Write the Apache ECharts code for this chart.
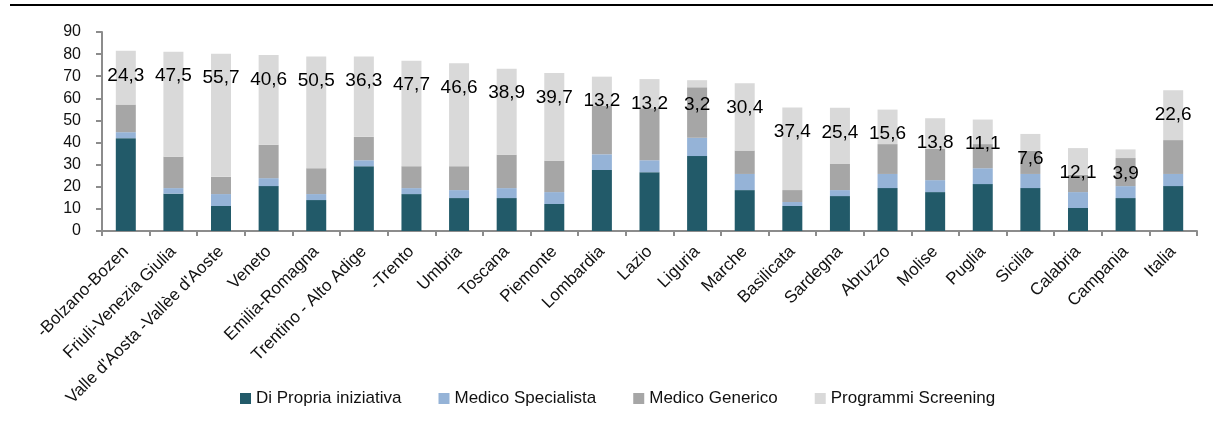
<!DOCTYPE html>
<html>
<head>
<meta charset="utf-8">
<script src="https://cdn.jsdelivr.net/npm/echarts@6/dist/echarts.min.js"></script>
<style>
  html, body { margin: 0; padding: 0; background: #fff; }
  #chart { width: 1213px; height: 421px; }
</style>
</head>
<body>
<div id="chart"></div>
<script>
// regioni
const categories = ['-Bolzano-Bozen', 'Friuli-Venezia Giulia', "Valle d'Aosta -Vallèe d'Aoste", 'Veneto',
  'Emilia-Romagna', 'Trentino - Alto Adige', '-Trento', 'Umbria', 'Toscana', 'Piemonte', 'Lombardia',
  'Lazio', 'Liguria', 'Marche', 'Basilicata', 'Sardegna', 'Abruzzo', 'Molise', 'Puglia', 'Sicilia',
  'Calabria', 'Campania', 'Italia']
const propria = [42.0, 16.9, 11.3, 20.3, 14.0, 29.3, 16.7, 14.9, 14.9, 12.2, 27.6, 26.6, 33.9, 18.5, 11.3, 15.8, 19.4, 17.6, 21.2, 19.4, 10.4, 14.9, 20.3]
const specialista = [2.7, 2.5, 5.4, 3.6, 2.7, 2.7, 2.7, 3.6, 4.5, 5.4, 7.1, 5.4, 8.3, 7.3, 1.8, 2.7, 6.4, 5.4, 7.2, 6.4, 7.2, 5.4, 5.5]
const generico = [12.5, 14.2, 7.8, 15.1, 11.7, 10.6, 9.9, 10.8, 15.1, 14.2, 21.9, 23.5, 22.8, 10.6, 5.4, 11.8, 13.5, 14.2, 10.9, 10.5, 7.8, 12.7, 15.3]
const screening = [24.3, 47.5, 55.7, 40.6, 50.5, 36.3, 47.7, 46.6, 38.9, 39.7, 13.2, 13.2, 3.2, 30.4, 37.4, 25.4, 15.6, 13.8, 11.1, 7.6, 12.1, 3.9, 22.6]
const yTicks = [0, 10, 20, 30, 40, 50, 60, 70, 80, 90]

const font = "'Liberation Sans', Arial, sans-serif"
const axisGray = '#8c8c8c'

const barBase = { type: 'bar', stack: 'tot', barWidth: 20 }

let option = {
  animation: false,
  textStyle: { fontFamily: font },
  grid: { left: 102, top: 32, width: 1095, height: 199 },
  legend: {
    left: 235,
    top: 385,
    itemWidth: 11,
    itemHeight: 11,
    itemGap: 37,
    icon: 'rect',
    textStyle: { fontFamily: font, fontSize: 17, color: '#111' },
    data: ['Di Propria iniziativa', 'Medico Specialista', 'Medico Generico', 'Programmi Screening']
  },
  xAxis: {
    type: 'category',
    data: categories,
    axisLine: { lineStyle: { color: axisGray, width: 2 } },
    axisTick: { show: true, length: 5, lineStyle: { color: axisGray, width: 2 } },
    axisLabel: { interval: 0, rotate: 45, margin: 18, fontFamily: font, fontSize: 17, color: '#111' }
  },
  yAxis: {
    type: 'value',
    min: yTicks[0],
    max: yTicks[yTicks.length - 1],
    interval: 10,
    splitLine: { show: false },
    axisLine: { show: true, lineStyle: { color: axisGray, width: 2 } },
    axisTick: { show: true, length: 6, lineStyle: { color: axisGray, width: 2 } },
    axisLabel: { margin: 21, fontFamily: font, fontSize: 16, color: '#111' }
  },
  graphic: [
    { type: 'line', shape: { x1: 10, y1: 5, x2: 1213, y2: 5 }, style: { stroke: '#000', lineWidth: 2 } }
  ],
  series: [
    { ...barBase, name: 'Di Propria iniziativa', data: propria, itemStyle: { color: '#225a69' } },
    { ...barBase, name: 'Medico Specialista', data: specialista, itemStyle: { color: '#95b3d7' } },
    { ...barBase, name: 'Medico Generico', data: generico, itemStyle: { color: '#a6a6a6' } },
    {
      ...barBase, name: 'Programmi Screening', data: screening, itemStyle: { color: '#d9d9d9' },
      label: {
        show: true,
        position: 'insideTop',
        distance: 15,
        fontFamily: font,
        fontSize: 19,
        color: '#000',
        formatter: (p) => String(p.value.toFixed(1)).replace('.', ',')
      }
    }
  ]
}

const myChart = echarts.init(document.getElementById('chart'))
myChart.setOption(option)
</script>
</body>
</html>
